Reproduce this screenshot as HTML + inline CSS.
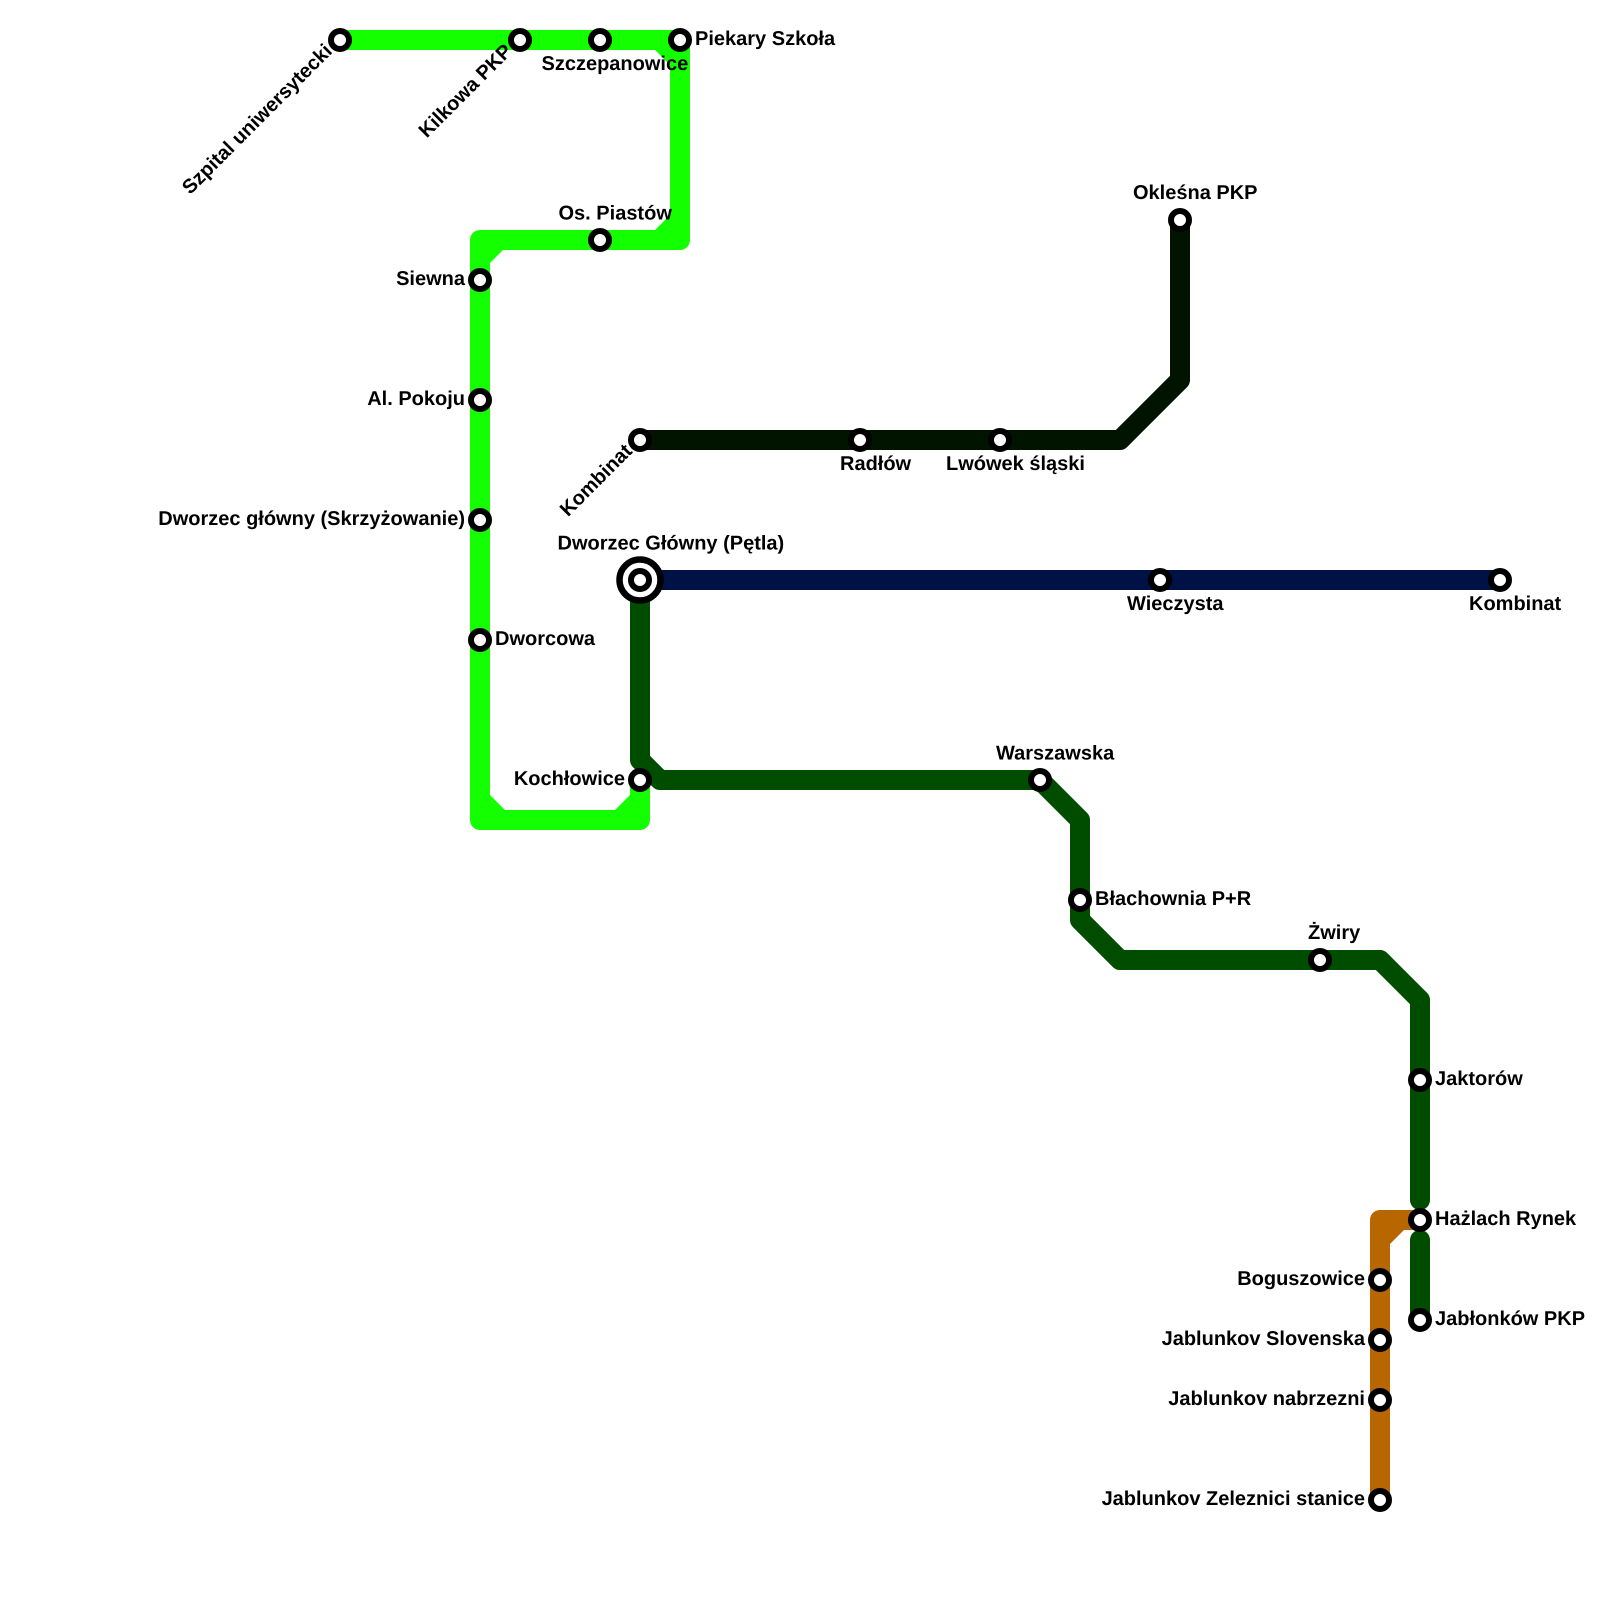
<!DOCTYPE html>
<html>
<head>
<meta charset="utf-8">
<style>
html,body{margin:0;padding:0;background:#fff;}
svg{display:block;}
text{font-family:"Liberation Sans",sans-serif;font-weight:bold;font-size:20px;fill:#000;text-rendering:geometricPrecision;}
.e{text-anchor:end;}
.s{fill:#fff;stroke:#000;stroke-width:6;}
.l{fill:none;stroke-width:20;stroke-linejoin:round;stroke-linecap:round;}
</style>
</head>
<body>
<svg width="1600" height="1600" viewBox="0 0 1600 1600" xmlns="http://www.w3.org/2000/svg">
<rect width="1600" height="1600" fill="#fff"/>
<!-- bright green -->
<path class="l" stroke="#14ff00" d="M340 40H680V240H480V820H640V780"/>
<path fill="#14ff00" d="M650 45L675 45L675 70ZM650 235L675 235L675 210ZM485 235H518L485 268ZM485 790V815H510ZM635 790V815H610Z"/>
<path fill="#14ff00" d="M470 800H490V830H470ZM470 810H650V830H470ZM630 800H650V820H630Z" clip-path="url(#c)"/>
<clipPath id="c"><rect x="460" y="780" width="200" height="40"/></clipPath>
<!-- black -->
<path class="l" stroke="#001400" d="M640 440H1120L1180 380V220"/>
<!-- navy -->
<path class="l" stroke="#001145" d="M640 580H1500"/>
<!-- dark green -->
<path class="l" stroke="#004d00" d="M640 580V760L660 780H1040L1080 820V920L1120 960H1380L1420 1000V1200"/>
<path class="l" stroke="#004d00" d="M1420 1240V1320"/>
<!-- orange -->
<path class="l" stroke="#b86600" d="M1420 1220H1380V1500"/>
<path fill="#b86600" d="M1385 1225H1409L1385 1249Z"/>
<!-- stations -->
<circle cx="640" cy="580" r="20.5" fill="#fff" stroke="#000" stroke-width="6.5"/>
<g class="s">
<circle cx="340" cy="40" r="9"/><circle cx="520" cy="40" r="9"/><circle cx="600" cy="40" r="9"/><circle cx="680" cy="40" r="9"/>
<circle cx="600" cy="240" r="9"/><circle cx="480" cy="280" r="9"/><circle cx="480" cy="400" r="9"/><circle cx="480" cy="520" r="9"/><circle cx="480" cy="640" r="9"/>
<circle cx="640" cy="780" r="9"/><circle cx="640" cy="580" r="9"/><circle cx="640" cy="440" r="9"/><circle cx="860" cy="440" r="9"/><circle cx="1000" cy="440" r="9"/>
<circle cx="1180" cy="220" r="9"/><circle cx="1160" cy="580" r="9"/><circle cx="1500" cy="580" r="9"/><circle cx="1040" cy="780" r="9"/><circle cx="1080" cy="900" r="9"/>
<circle cx="1320" cy="960" r="9"/><circle cx="1420" cy="1080" r="9"/><circle cx="1420" cy="1220" r="9"/><circle cx="1420" cy="1320" r="9"/>
<circle cx="1380" cy="1280" r="9"/><circle cx="1380" cy="1340" r="9"/><circle cx="1380" cy="1400" r="9"/><circle cx="1380" cy="1500" r="9"/>
</g>
<!-- labels -->
<text class="e" transform="translate(333.2 52.2) rotate(-45)">Szpital uniwersytecki</text>
<text class="e" transform="translate(513.2 52.2) rotate(-45)">Kilkowa PKP</text>
<text class="e" transform="translate(633.2 452.2) rotate(-45)">Kombinat</text>
<text x="541.5" y="70">Szczepanowice</text>
<text x="695" y="45">Piekary Szkoła</text>
<text x="558.5" y="219.5">Os. Piastów</text>
<text class="e" x="465" y="285">Siewna</text>
<text class="e" x="465" y="405">Al. Pokoju</text>
<text class="e" x="465" y="525">Dworzec główny (Skrzyżowanie)</text>
<text x="495" y="645">Dworcowa</text>
<text class="e" x="625" y="785">Kochłowice</text>
<text x="557.5" y="549.5">Dworzec Główny (Pętla)</text>
<text x="840" y="470">Radłów</text>
<text x="946" y="470">Lwówek śląski</text>
<text x="1133" y="199">Okleśna PKP</text>
<text x="1127" y="610">Wieczysta</text>
<text x="1469" y="610">Kombinat</text>
<text x="996" y="759.5">Warszawska</text>
<text x="1095" y="905">Błachownia P+R</text>
<text x="1308" y="939">Żwiry</text>
<text x="1435" y="1085">Jaktorów</text>
<text x="1435" y="1225">Hażlach Rynek</text>
<text x="1435" y="1325">Jabłonków PKP</text>
<text class="e" x="1365" y="1285">Boguszowice</text>
<text class="e" x="1365" y="1345">Jablunkov Slovenska</text>
<text class="e" x="1365" y="1405">Jablunkov nabrzezni</text>
<text class="e" x="1365" y="1505">Jablunkov Zeleznici stanice</text>
</svg>
</body>
</html>
